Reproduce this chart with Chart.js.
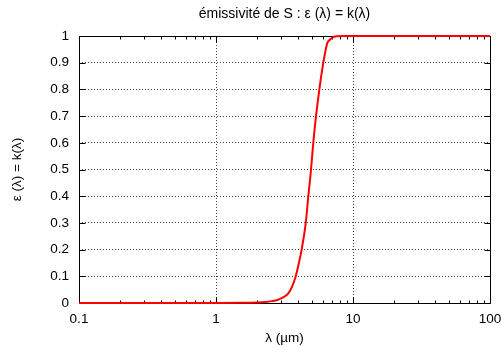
<!DOCTYPE html>
<html>
<head>
<meta charset="utf-8">
<script src="https://cdn.jsdelivr.net/npm/chart.js@4"></script>
<style>
html,body{margin:0;padding:0;background:#fff;}
#wrap{width:501px;height:346px;}
</style>
</head>
<body>
<div id="wrap"><canvas id="c" width="501" height="346"></canvas></div>
<script>
// ---- data ----
const wavelengths = [0.1, 0.5, 1, 1.5, 2, 2.3, 2.55, 2.8, 3.02, 3.2, 3.37, 3.6, 3.82, 4.02, 4.22, 4.52, 4.72, 4.94, 5.13, 5.37, 5.68, 6.07, 6.3, 6.49, 6.75, 6.99, 7.3, 7.6, 8.5, 10, 30, 100];
const emissivity  = [0, 0, 0, 0.0005, 0.002, 0.004, 0.007, 0.011, 0.018, 0.026, 0.036, 0.062, 0.1, 0.148, 0.2, 0.3, 0.4, 0.5, 0.6, 0.7, 0.8, 0.9, 0.945, 0.973, 0.985, 0.992, 0.997, 0.999, 1, 1, 1, 1];
const xMajorTicks = [0.1, 1, 10, 100];
const xMinorTicks = [0.2,0.3,0.4,0.5,0.6,0.7,0.8,0.9,2,3,4,5,6,7,8,9,20,30,40,50,60,70,80,90];
const yTicks = [0, 0.1, 0.2, 0.3, 0.4, 0.5, 0.6, 0.7, 0.8, 0.9, 1];
const titleText = 'émissivité de S : ε (λ) = k(λ)';
const xTitle = 'λ (µm)';
const yTitle = 'ε (λ) = k(λ)';

const FONT = {family: "'Liberation Sans', Arial, Helvetica, sans-serif", size: 13.5};
const TITLE_FONT = {family: "'Liberation Sans', Arial, Helvetica, sans-serif", size: 14};

const points = wavelengths.map((w, i) => ({x: w, y: emissivity[i]}));

const frame = {
  id: 'frame',
  beforeDatasetsDraw(chart) {
    const {ctx, chartArea: a, scales} = chart;
    ctx.save();
    ctx.strokeStyle = '#000';
    ctx.lineWidth = 1;
    ctx.beginPath();
    const L = Math.round(a.left) + 0.5, R = Math.round(a.right) + 0.5;
    const T = Math.round(a.top) + 0.5, B = Math.round(a.bottom) + 0.5;
    ctx.rect(L, T, R - L, B - T);
    const xs = scales.x;
    const tick = (v, len) => {
      const px = Math.round(xs.getPixelForValue(v)) + 0.5;
      ctx.moveTo(px, B); ctx.lineTo(px, B - len);
      ctx.moveTo(px, T); ctx.lineTo(px, T + len);
    };
    xMajorTicks.forEach(v => tick(v, 6));
    xMinorTicks.forEach(v => tick(v, 3));
    const ys = scales.y;
    yTicks.forEach(v => {
      const py = Math.round(ys.getPixelForValue(v)) + 0.5;
      ctx.moveTo(L, py); ctx.lineTo(L + 6, py);
      ctx.moveTo(R, py); ctx.lineTo(R - 6, py);
    });
    ctx.stroke();
    ctx.restore();
  }
};

new Chart(document.getElementById('c'), {
  type: 'scatter',
  data: {
    datasets: [{
      data: points,
      showLine: true,
      borderColor: '#ff0000',
      backgroundColor: '#ff0000',
      borderWidth: 2,
      pointRadius: 0,
      cubicInterpolationMode: 'monotone',
      clip: false
    }]
  },
  options: {
    responsive: false,
    animation: false,
    devicePixelRatio: 1,
    layout: {padding: {left: 0, right: 11, top: 0, bottom: 0}},
    plugins: {
      legend: {display: false},
      tooltip: {enabled: false},
      title: {display: false}
    },
    scales: {
      x: {
        type: 'logarithmic',
        min: 0.1,
        max: 100,
        afterBuildTicks(scale) {
          scale.ticks = xMajorTicks.concat(xMinorTicks).sort((a, b) => a - b).map(v => ({value: v, major: xMajorTicks.includes(v)}));
        },
        afterFit(scale) { scale.height = 43; scale.paddingRight = 0; scale.paddingLeft = 0; },
        grid: {
          drawTicks: false,
          color: c => (c.tick && (c.tick.value === 1 || c.tick.value === 10)) ? 'rgba(0,0,0,0.75)' : 'rgba(0,0,0,0)',
          lineWidth: 1
        },
        border: {display: false, dash: [1, 2]},
        ticks: {
          autoSkip: false,
          maxRotation: 0,
          padding: 8,
          color: '#000',
          font: FONT,
          callback: v => xMajorTicks.includes(v) ? String(v) : ''
        },
        title: {
          display: true,
          text: xTitle,
          color: '#000',
          font: FONT,
          padding: {top: 0, bottom: 0}
        }
      },
      x2: {
        type: 'linear',
        position: 'top',
        min: 0,
        max: 1,
        afterFit(scale) { scale.height = 36; scale.paddingRight = 0; scale.paddingLeft = 0; },
        grid: {display: false, drawTicks: false},
        border: {display: false},
        ticks: {display: false},
        title: {
          display: true,
          text: titleText,
          color: '#000',
          font: TITLE_FONT,
          padding: {top: 6, bottom: 0}
        }
      },
      y: {
        min: 0,
        max: 1,
        afterBuildTicks(scale) {
          scale.ticks = yTicks.map(v => ({value: v}));
        },
        afterFit(scale) { scale.width = 79; scale.paddingTop = 0; scale.paddingBottom = 0; },
        border: {display: false, dash: [1, 2]},
        grid: {
          drawTicks: false,
          color: c => (c.tick && c.tick.value > 0 && c.tick.value < 1) ? 'rgba(0,0,0,0.75)' : 'rgba(0,0,0,0)',
          lineWidth: 1
        },
        ticks: {
          padding: 10,
          color: '#000',
          font: FONT,
          callback: v => String(v)
        },
        title: {
          display: true,
          text: yTitle,
          color: '#000',
          font: FONT,
          padding: {top: 9, bottom: 0}
        }
      }
    }
  },
  plugins: [frame]
});
</script>
</body>
</html>
